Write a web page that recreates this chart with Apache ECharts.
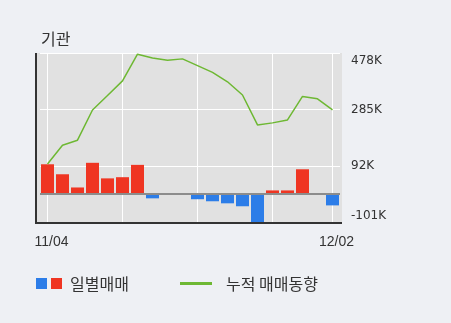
<!DOCTYPE html>
<html>
<head>
<meta charset="utf-8">
<script src="https://cdn.jsdelivr.net/npm/echarts@6/dist/echarts.min.js"></script>
<style>
  html, body { margin: 0; padding: 0; background: #eef0f4; }
  #chart { width: 451px; height: 323px; }
</style>
</head>
<body>
<div id="chart"></div>
<script>
// Trading days (only the first and last are labelled)
const dates = ['11/04','11/05','11/06','11/07','11/08','11/11','11/12','11/13','11/14','11/15',
               '11/18','11/19','11/20','11/21','11/22','11/25','11/26','11/27','11/29','12/02'];
// Daily net trading, thousands of shares
const dailyNet = [99, 65, 20, 104, 51, 55, 97, -17, 0, 0,
                  -20, -27, -34, -44, -99, 10, 10, 82, 0, -41];
// Cumulative net trading, thousands of shares
const cumulative = [100, 164, 181, 284, 333, 383, 474, 461, 453, 458,
                    435, 412, 380, 335, 233, 240, 250, 330, 322, 284];
// Right-hand value ticks
const yTicks = [-101, 92, 285, 478];

const RED = '#ef3522';
const BLUE = '#2c7de8';
const GREEN = '#6eb833';
const TEXT = '#333333';
const FONT = '"Liberation Sans", "Noto Sans CJK KR", sans-serif';
const NUM_FONT = '"DejaVu Sans", sans-serif';
const KR_FONT = '"Noto Sans CJK KR", sans-serif';

const chart = echarts.init(document.getElementById('chart'));

chart.setOption({
  backgroundColor: '#eef0f4',
  animation: false,
  title: {
    text: '기관',
    left: 36,
    top: 26,
    textStyle: { fontSize: 16, fontWeight: 'normal', color: TEXT, fontFamily: KR_FONT }
  },
  grid: { left: 40, right: 111, top: 53, bottom: 100 },
  xAxis: {
    type: 'category',
    data: dates,
    boundaryGap: true,
    axisLine: { show: false },
    axisTick: { show: false },
    axisLabel: {
      interval: (i) => i === 0 || i === dates.length - 1,
      color: TEXT,
      fontSize: 14,
      fontFamily: FONT,
      margin: 12,
      padding: [0, 0, 0, 8]
    },
    splitLine: {
      show: true,
      alignWithLabel: true,
      interval: (i) => i % 5 === 0 || i === dates.length - 1,
      lineStyle: { color: '#ffffff', width: 1 }
    }
  },
  yAxis: {
    type: 'value',
    position: 'right',
    min: yTicks[0],
    max: yTicks[yTicks.length - 1],
    axisLine: { show: false },
    axisTick: { show: false, customValues: yTicks },
    axisLabel: {
      customValues: yTicks,
      color: TEXT,
      fontSize: 12,
      fontFamily: NUM_FONT,
      margin: 11,
      formatter: (v) => {
        const s = v + 'K';
        if (v === yTicks[yTicks.length - 1]) return '{top|' + s + '}';
        if (v === yTicks[0]) return '{bot|' + s + '}';
        return s;
      },
      rich: {
        top: { fontSize: 12, fontFamily: NUM_FONT, color: TEXT, padding: [15, 0, 0, 0] },
        bot: { fontSize: 12, fontFamily: NUM_FONT, color: TEXT, padding: [0, 0, 14, 0] }
      }
    },
    splitLine: { show: true, lineStyle: { color: '#ffffff', width: 1 } }
  },
  series: [
    {
      name: '일별매매',
      type: 'bar',
      data: dailyNet,
      barWidth: 13,
      z: 2,
      itemStyle: { color: (p) => (p.value >= 0 ? RED : BLUE) },
      markLine: {
        silent: true,
        symbol: 'none',
        label: { show: false },
        lineStyle: { color: '#8c8c8c', width: 2, type: 'solid' },
        data: [{ yAxis: 0 }]
      }
    },
    {
      name: '누적 매매동향',
      type: 'line',
      data: cumulative,
      symbol: 'none',
      z: 3,
      lineStyle: { color: GREEN, width: 1.5 }
    }
  ],
  graphic: [
    // plot background and frame
    { type: 'rect', z: -10, silent: true, shape: { x: 36, y: 53, width: 306, height: 170 }, style: { fill: '#e1e1e1' } },
    { type: 'line', z: 10, silent: true, shape: { x1: 36, y1: 53, x2: 36, y2: 224 }, style: { stroke: '#333333', lineWidth: 2 } },
    { type: 'line', z: 10, silent: true, shape: { x1: 35, y1: 223, x2: 342, y2: 223 }, style: { stroke: '#333333', lineWidth: 2 } },
    // legend
    { type: 'rect', silent: true, shape: { x: 36, y: 278, width: 11, height: 11 }, style: { fill: BLUE } },
    { type: 'rect', silent: true, shape: { x: 51, y: 278, width: 11, height: 11 }, style: { fill: RED } },
    { type: 'text', silent: true, x: 70, y: 284, style: { text: '일별매매', fill: TEXT, font: '16px ' + KR_FONT, verticalAlign: 'middle' } },
    { type: 'line', silent: true, shape: { x1: 180, y1: 283.5, x2: 212, y2: 283.5 }, style: { stroke: GREEN, lineWidth: 3 } },
    { type: 'text', silent: true, x: 226, y: 284, style: { text: '누적 매매동향', fill: TEXT, font: '16px ' + KR_FONT, verticalAlign: 'middle' } }
  ]
});
</script>
</body>
</html>
